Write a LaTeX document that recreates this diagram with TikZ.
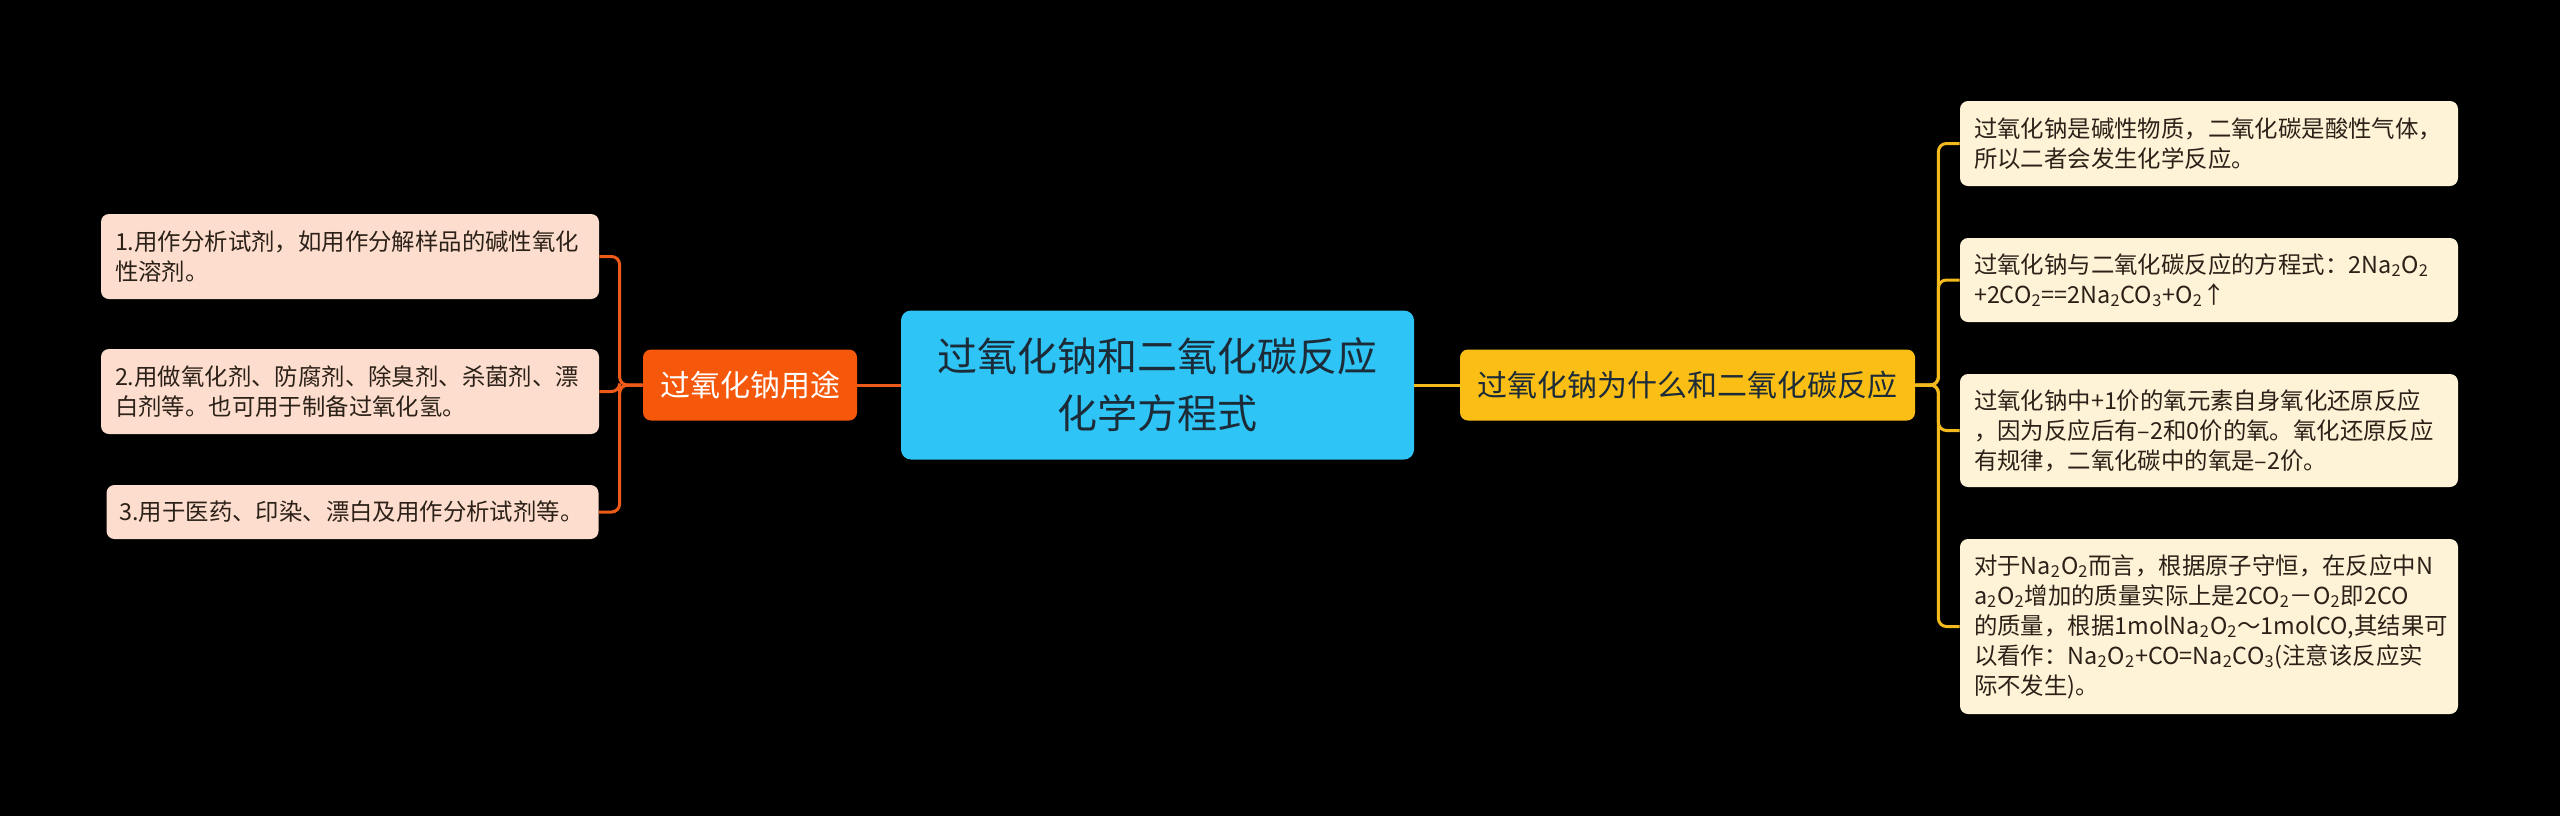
\documentclass[tikz,border=0pt]{standalone}
\usepackage{fontspec}
\setmainfont{Noto Sans CJK SC}
\definecolor{bgc}{HTML}{000000}
\definecolor{rootfill}{HTML}{2EC4F5}
\definecolor{roottext}{HTML}{1C2B38}
\definecolor{orfill}{HTML}{F5580A}
\definecolor{yefill}{HTML}{FBBE14}
\definecolor{lleaf}{HTML}{FDDDCD}
\definecolor{rleaf}{HTML}{FEF3D6}
\definecolor{leaftext}{HTML}{2B2118}
\definecolor{lline}{HTML}{EE5A18}
\definecolor{rline}{HTML}{F2BA1C}
\newcommand{\sbs}[1]{\textsubscript{#1}}
\tikzset{
  root/.style={rectangle, rounded corners=5pt, fill=rootfill, text=roottext,
    minimum width=256.5pt, minimum height=74.5pt, align=center,
    font=\fontsize{20pt}{28.5pt}\selectfont, inner sep=0pt},
  branchbox/.style={rectangle, rounded corners=4pt, minimum height=35.5pt,
    font=\fontsize{15pt}{18pt}\selectfont, inner sep=0pt},
  leafbox/.style={rectangle, rounded corners=4pt, text=leaftext, align=left,
    text width=235pt, inner xsep=7pt, inner ysep=0pt,
    font=\fontsize{11.7pt}{15pt}\selectfont},
  lleafbox/.style={leafbox, fill=lleaf},
  rleafbox/.style={leafbox, fill=rleaf},
  lconn/.style={draw=lline, line width=1.5pt, rounded corners=4pt},
  rconn/.style={draw=rline, line width=1.5pt, rounded corners=4pt},
}
\begin{document}
\begin{tikzpicture}[x=0.5pt,y=-0.5pt]
\fill[bgc] (0,0) rectangle (2560,816);
\useasboundingbox (0,0) rectangle (2560,816);

\node[root] (root) at (1157.5,385) {过氧化钠和二氧化碳反应\\化学方程式};
\node[branchbox, fill=orfill, text=white, minimum width=107pt] (use) at (750,385) {过氧化钠用途};
\node[branchbox, fill=yefill, text=roottext, minimum width=227.5pt] (why) at (1687.5,385) {过氧化钠为什么和二氧化碳反应};

\node[lleafbox, minimum height=42.5pt] (l1) at (350,256.5) {1.用作分析试剂，如用作分解样品的碱性氧化\\性溶剂。};
\node[lleafbox, minimum height=42.5pt] (l2) at (350,391.5) {2.用做氧化剂、防腐剂、除臭剂、杀菌剂、漂\\白剂等。也可用于制备过氧化氢。};
\node[lleafbox, minimum height=27pt, text width=233pt, inner xsep=6.5pt] (l3) at (352.5,512) {3.用于医药、印染、漂白及用作分析试剂等。};

\node[rleafbox, minimum height=42.5pt] (r1) at (2209,143.5) {过氧化钠是碱性物质，二氧化碳是酸性气体，\\所以二者会发生化学反应。};
\node[rleafbox, minimum height=42pt] (r2) at (2209,280) {过氧化钠与二氧化碳反应的方程式：2Na\sbs{2}O\sbs{2}\\+2CO\sbs{2}==2Na\sbs{2}CO\sbs{3}+O\sbs{2}↑};
\node[rleafbox, minimum height=56.5pt] (r3) at (2209,430.5) {过氧化钠中+1价的氧元素自身氧化还原反应\\，因为反应后有–2和0价的氧。氧化还原反应\\有规律，二氧化碳中的氧是–2价。};
\node[rleafbox, minimum height=87.5pt] (r4) at (2209,626.5) {对于Na\sbs{2}O\sbs{2}而言，根据原子守恒，在反应中N\\a\sbs{2}O\sbs{2}增加的质量实际上是2CO\sbs{2}－O\sbs{2}即2CO\\的质量，根据1molNa\sbs{2}O\sbs{2}～1molCO,其结果可\\以看作：Na\sbs{2}O\sbs{2}+CO=Na\sbs{2}CO\sbs{3}(注意该反应实\\际不发生)。};

\draw[lconn] (root.west) -- (use.east);
\draw[rconn] (root.east) -- (why.west);

\draw[lconn] (use.west) -- ++(-23,0) |- (l1.east);
\draw[lconn] (use.west) -- ++(-23,0) |- (l2.east);
\draw[lconn] (use.west) -- ++(-23,0) |- (l3.east);

\draw[rconn] (why.east) -- ++(23,0) |- (r1.west);
\draw[rconn] (why.east) -- ++(23,0) |- (r2.west);
\draw[rconn] (why.east) -- ++(23,0) |- (r3.west);
\draw[rconn] (why.east) -- ++(23,0) |- (r4.west);
\end{tikzpicture}
\end{document}
